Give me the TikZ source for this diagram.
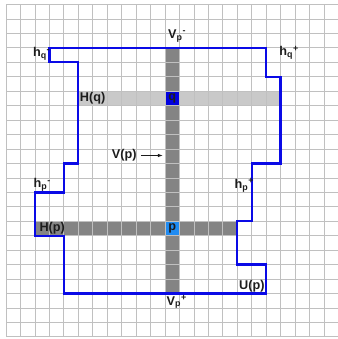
\documentclass[tikz,border=0pt]{standalone}
\usepackage{fontspec}
\setmainfont{Liberation Sans}
\usetikzlibrary{arrows.meta,positioning}
\definecolor{ink}{HTML}{1C1C1C}
\definecolor{gridgray}{HTML}{C0C0C0}
\definecolor{cellgray}{HTML}{848484}
\definecolor{rowgray}{HTML}{C9C9C9}
\definecolor{regionblue}{HTML}{0A0AE6}
\definecolor{qblue}{HTML}{0000E0}
\definecolor{pblue}{HTML}{1F8BF2}
\newcommand{\pmlabel}[3]{#1\textsubscript{#2}\textsuperscript{#3}}
\tikzset{>=Latex,
  every node/.style={font=\fontsize{12.5}{14}\selectfont\bfseries,text=ink},
  gridline/.style={draw=gridgray,line width=.75pt},
  border/.style={draw=regionblue,line width=2.3pt,line join=miter},
  lbl/.style={inner sep=0pt},
  pointer/.style={-{Latex[length=5pt,width=3.5pt]},draw=ink,line width=.7pt,shorten <=4pt}}

\begin{document}
\begin{tikzpicture}[x=.5cm,y=-.5cm]
\path[use as bounding box] (-.42,-.31) rectangle (22.97,23.15);
\fill[rowgray] (5,6) rectangle (19,7);
\fill[cellgray] (11,3) rectangle (12,20) (2,15) rectangle (16,16);
\fill[qblue] (11,6) rectangle (12,7);
\fill[pblue] (11,15) rectangle (12,16);
\foreach \i in {0,...,23}{\draw[gridline] (\i,0)--(\i,23) (0,\i)--(23,\i);}
% region U(p)
\draw[border] (3,3) -| (18,5) -| (19,11) -| (17,15) -| (16,18) -| (18,20)
  -| (4,16) -| (2,13) -| (4,11) -| (5,4) -| (3,3) -- cycle;
\node[lbl,anchor=base west] (hqminus) at (1.85,3.6) {\pmlabel{h}{q}{-}};
\node[lbl,anchor=base west] (hqplus) at (18.9,3.55) {\pmlabel{h}{q}{+}};
\node[lbl,anchor=base west] (hpminus) at (1.9,12.7) {\pmlabel{h}{p}{-}};
\node[lbl,anchor=base west] (hpplus) at (15.8,12.72) {\pmlabel{h}{p}{+}};
\node[lbl,anchor=base west] (vpminus) at (11.2,2.34) {\pmlabel{V}{p}{-}};
\node[lbl,anchor=base west] (vpplus) at (11.1,20.8) {\pmlabel{V}{p}{+}};
\node[lbl,anchor=west] (hq) at (5.1,6.5) {H(q)};
\node[lbl,anchor=west] (hp) at (2.3,15.5) {H(p)};
\node[lbl,anchor=east] (up) at (17.9,19.5) {U(p)};
\node[lbl,anchor=east] (vp) at (9.05,10.45) {V(p)};
\node (q) at (11.5,6.5) {q};
\node (p) at (11.5,15.5) {p};
\coordinate (vcol) at (10.85,10.45);
\draw[pointer] (vp) -- (vcol);
\end{tikzpicture}
\end{document}
